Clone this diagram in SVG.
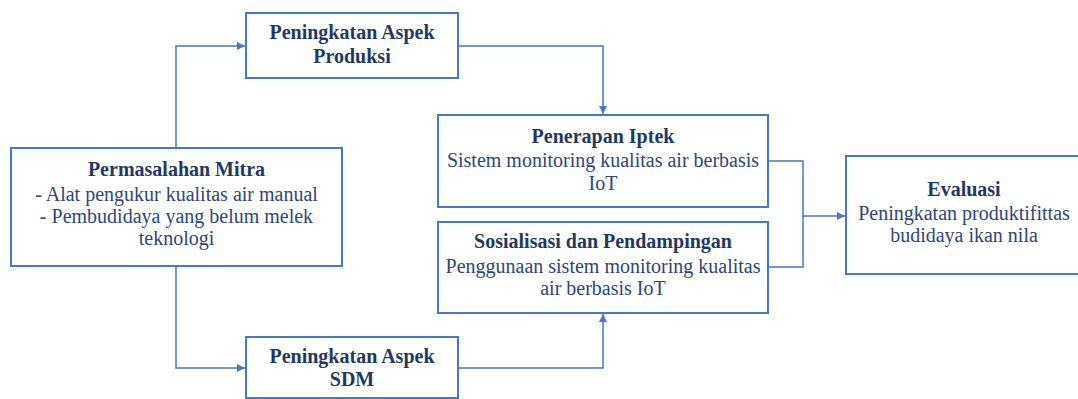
<svg xmlns="http://www.w3.org/2000/svg" width="1078" height="399" viewBox="0 0 1078 399">
<style>
.box{fill:#fff;stroke:#4a76c6;stroke-width:2}
.t{font-family:"Liberation Serif","Times New Roman",serif;font-size:20px;text-anchor:middle}
.b{font-weight:bold;fill:#1f3864}
.n{fill:#2f4677}
.c{fill:none;stroke:#4a76c6;stroke-width:1.5}
</style>
<defs>
<marker id="ah" viewBox="0 0 10 10" refX="10" refY="5" markerWidth="8" markerHeight="8" markerUnits="userSpaceOnUse" orient="auto">
<path d="M0,0 L10,5 L0,10 z" fill="#4a76c6"/>
</marker>
</defs>
<rect width="1078" height="399" fill="#fff"/>
<g id="connectors">
<path class="c" d="M176,148 V46 H245" marker-end="url(#ah)"/>
<path class="c" d="M458,46 H603 V114" marker-end="url(#ah)"/>
<path class="c" d="M176,266 V368 H245" marker-end="url(#ah)"/>
<path class="c" d="M458,368 H603 V314" marker-end="url(#ah)"/>
<path class="c" d="M768,161 H803 V267 H768"/>
<path class="c" d="M803,216 H845" marker-end="url(#ah)"/>
</g>
<g id="permasalahan">
<rect class="box" x="11" y="148" width="331" height="118"/>
<text class="t b" x="176.5" y="176">Permasalahan Mitra</text>
<text class="t n" x="176.5" y="201">- Alat pengukur kualitas air manual</text>
<text class="t n" x="176.5" y="223">- Pembudidaya yang belum melek</text>
<text class="t n" x="176.5" y="245">teknologi</text>
</g>
<g id="produksi">
<rect class="box" x="246" y="13" width="212" height="65"/>
<text class="t b" x="352" y="39">Peningkatan Aspek</text>
<text class="t b" x="352" y="63">Produksi</text>
</g>
<g id="sdm">
<rect class="box" x="246" y="337" width="212" height="61"/>
<text class="t b" x="352" y="363">Peningkatan Aspek</text>
<text class="t b" x="352" y="386">SDM</text>
</g>
<g id="penerapan">
<rect class="box" x="438" y="115" width="330" height="92"/>
<text class="t b" x="603" y="143">Penerapan Iptek</text>
<text class="t n" x="603" y="167">Sistem monitoring kualitas air berbasis</text>
<text class="t n" x="603" y="190">IoT</text>
</g>
<g id="sosialisasi">
<rect class="box" x="438" y="222" width="330" height="91"/>
<text class="t b" x="603" y="248">Sosialisasi dan Pendampingan</text>
<text class="t n" x="603" y="273">Penggunaan sistem monitoring kualitas</text>
<text class="t n" x="603" y="295">air berbasis IoT</text>
</g>
<g id="evaluasi">
<rect class="box" x="846" y="156" width="240" height="118"/>
<text class="t b" x="964" y="196">Evaluasi</text>
<text class="t n" x="964" y="220">Peningkatan produktifittas</text>
<text class="t n" x="964" y="242">budidaya ikan nila</text>
</g>
</svg>
